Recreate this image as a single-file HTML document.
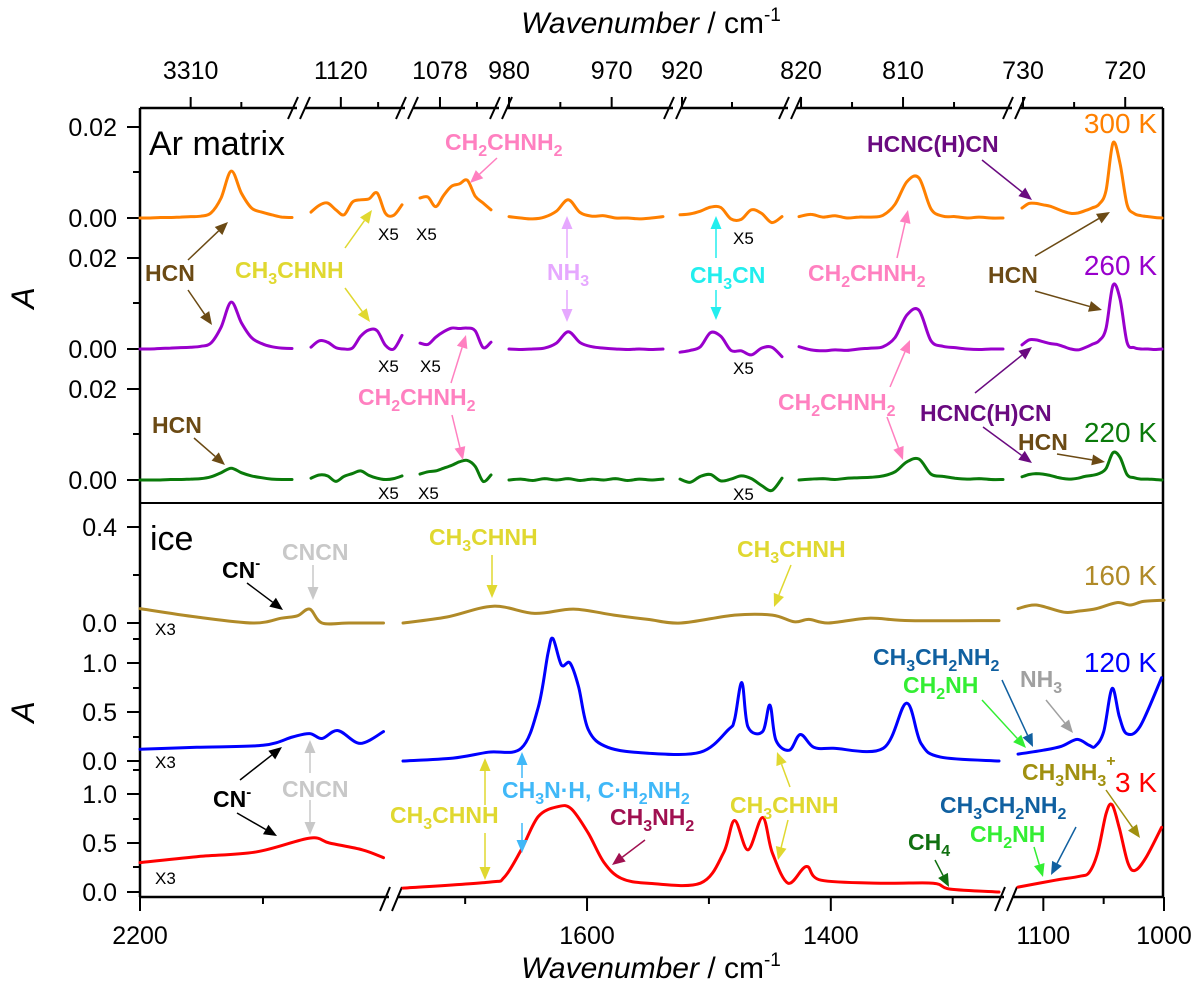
<!DOCTYPE html>
<html><head><meta charset="utf-8"><style>
html,body{margin:0;padding:0;background:#fff}
svg{display:block}
text{font-family:"Liberation Sans",Arial,sans-serif}
.lb{font-weight:bold;font-size:23px}
.tk{font-size:25px}
</style></head><body>
<svg id="chart" width="1200" height="988" viewBox="0 0 1200 988" xmlns="http://www.w3.org/2000/svg">
<g id="frame"></g>
<g id="traces"></g>
<g id="arrows"></g>
<g id="labels">
<text x="651" y="33" font-size="30" text-anchor="middle"><tspan font-style="italic">Wavenumber</tspan> / cm<tspan dy="-12" font-size="19">-1</tspan></text>
<text x="651" y="978" font-size="30" text-anchor="middle"><tspan font-style="italic">Wavenumber</tspan> / cm<tspan dy="-12" font-size="19">-1</tspan></text>
<text x="0" y="0" font-size="32" font-style="italic" text-anchor="middle" transform="translate(34,298) rotate(-90)">A</text>
<text x="0" y="0" font-size="32" font-style="italic" text-anchor="middle" transform="translate(34,712) rotate(-90)">A</text>
<text x="149" y="155" font-size="34">Ar matrix</text>
<text x="150" y="550" font-size="34">ice</text>
<text x="1157" y="133" font-size="28" fill="#ff8000" text-anchor="end">300 K</text>
<text x="1157" y="275" font-size="28" fill="#9900cc" text-anchor="end">260 K</text>
<text x="1157" y="442" font-size="28" fill="#0a7a0a" text-anchor="end">220 K</text>
<text x="1157" y="585" font-size="28" fill="#b08a28" text-anchor="end">160 K</text>
<text x="1157" y="672" font-size="28" fill="#0000ff" text-anchor="end">120 K</text>
<text x="1157" y="792" font-size="28" fill="#ff0000" text-anchor="end">3 K</text>

<text class="lb" x="445" y="150" fill="#ff80c0">CH<tspan dy="6" font-size="16">2</tspan><tspan dy="-6">CHNH</tspan><tspan dy="6" font-size="16">2</tspan></text>
<text class="lb" x="145" y="281" fill="#6b4a14">HCN</text>
<text class="lb" x="235" y="278" fill="#e0d830">CH<tspan dy="6" font-size="16">3</tspan><tspan dy="-6">CHNH</tspan></text>
<text class="lb" x="547" y="280" fill="#e6a8ff">NH<tspan dy="6" font-size="16">3</tspan></text>
<text class="lb" x="690" y="283" fill="#22eeee">CH<tspan dy="6" font-size="16">3</tspan><tspan dy="-6">CN</tspan></text>
<text class="lb" x="808" y="281" fill="#ff80c0">CH<tspan dy="6" font-size="16">2</tspan><tspan dy="-6">CHNH</tspan><tspan dy="6" font-size="16">2</tspan></text>
<text class="lb" x="867" y="152" fill="#6a0a80">HCNC(H)CN</text>
<text class="lb" x="988" y="283" fill="#6b4a14">HCN</text>
<text class="lb" x="358" y="405" fill="#ff80c0">CH<tspan dy="6" font-size="16">2</tspan><tspan dy="-6">CHNH</tspan><tspan dy="6" font-size="16">2</tspan></text>
<text class="lb" x="152" y="433" fill="#6b4a14">HCN</text>
<text class="lb" x="778" y="410" fill="#ff80c0">CH<tspan dy="6" font-size="16">2</tspan><tspan dy="-6">CHNH</tspan><tspan dy="6" font-size="16">2</tspan></text>
<text class="lb" x="920" y="421" fill="#6a0a80">HCNC(H)CN</text>
<text class="lb" x="1018" y="450" fill="#6b4a14">HCN</text>
<g font-size="17">
<text x="378" y="240">X5</text>
<text x="416" y="240">X5</text>
<text x="378" y="372">X5</text>
<text x="420" y="372">X5</text>
<text x="378" y="499">X5</text>
<text x="418" y="499">X5</text>
<text x="733" y="244">X5</text>
<text x="733" y="374">X5</text>
<text x="733" y="500">X5</text>
<text x="155" y="635">X3</text>
<text x="155" y="768">X3</text>
<text x="155" y="884">X3</text>
</g>

<text class="lb" x="222" y="578" fill="#000">CN<tspan dy="-10" font-size="15">-</tspan></text>
<text class="lb" x="282" y="560" fill="#c8c8c8">CNCN</text>
<text class="lb" x="429" y="545" fill="#e0d830">CH<tspan dy="6" font-size="16">3</tspan><tspan dy="-6">CHNH</tspan></text>
<text class="lb" x="737" y="557" fill="#e0d830">CH<tspan dy="6" font-size="16">3</tspan><tspan dy="-6">CHNH</tspan></text>
<text class="lb" x="873" y="665" fill="#1060a0">CH<tspan dy="6" font-size="16">3</tspan><tspan dy="-6">CH</tspan><tspan dy="6" font-size="16">2</tspan><tspan dy="-6">NH</tspan><tspan dy="6" font-size="16">2</tspan></text>
<text class="lb" x="903" y="693" fill="#33ee33">CH<tspan dy="6" font-size="16">2</tspan><tspan dy="-6">NH</tspan></text>
<text class="lb" x="1020" y="687" fill="#a0a0a0">NH<tspan dy="6" font-size="16">3</tspan></text>
<text class="lb" x="213" y="807" fill="#000">CN<tspan dy="-10" font-size="15">-</tspan></text>
<text class="lb" x="282" y="797" fill="#c8c8c8">CNCN</text>
<text class="lb" x="390" y="823" fill="#e0d830">CH<tspan dy="6" font-size="16">3</tspan><tspan dy="-6">CHNH</tspan></text>
<text class="lb" x="502" y="798" fill="#40b8f8">CH<tspan dy="6" font-size="16">3</tspan><tspan dy="-6">N·H, C·H</tspan><tspan dy="6" font-size="16">2</tspan><tspan dy="-6">NH</tspan><tspan dy="6" font-size="16">2</tspan></text>
<text class="lb" x="610" y="825" fill="#a01050">CH<tspan dy="6" font-size="16">3</tspan><tspan dy="-6">NH</tspan><tspan dy="6" font-size="16">2</tspan></text>
<text class="lb" x="730" y="813" fill="#e0d830">CH<tspan dy="6" font-size="16">3</tspan><tspan dy="-6">CHNH</tspan></text>
<text class="lb" x="908" y="850" fill="#107010">CH<tspan dy="6" font-size="16">4</tspan></text>
<text class="lb" x="940" y="813" fill="#1060a0">CH<tspan dy="6" font-size="16">3</tspan><tspan dy="-6">CH</tspan><tspan dy="6" font-size="16">2</tspan><tspan dy="-6">NH</tspan><tspan dy="6" font-size="16">2</tspan></text>
<text class="lb" x="970" y="842" fill="#33ee33">CH<tspan dy="6" font-size="16">2</tspan><tspan dy="-6">NH</tspan></text>
<text class="lb" x="1022" y="780" fill="#a09010">CH<tspan dy="6" font-size="16">3</tspan><tspan dy="-6">NH</tspan><tspan dy="6" font-size="16">3</tspan><tspan dy="-20" font-size="16">+</tspan></text>
</g>
</svg>
<script>
// ---------- Axis segments (wavenumber domain -> pixel range) ----------
const topSegs = [
 {wn:[3320,3290], px:[140,292]},
 {wn:[1124,1111.8], px:[311,402]},
 {wn:[1080.7,1071.1], px:[420,491]},
 {wn:[980,965], px:[509,663]},
 {wn:[920.2,910], px:[680,782]},
 {wn:[820.2,800.2], px:[799,1003]},
 {wn:[730.1,716.4], px:[1022,1162]}
];
const botSegs = [
 {wn:[2200,2002], px:[140,383.5]},
 {wn:[1751,1262], px:[403,999]},
 {wn:[1121,1000], px:[1018,1164]}
];
// top tick labels and positions (values)
const topMajorTicks = [[0,3310],[1,1120],[2,1078],[3,980],[3,970],[4,920],[5,820],[5,810],[6,730],[6,720]];
const topMinorTicks = [[0,3300],[1,1115],[2,1073],[3,975],[4,915],[5,815],[5,805],[6,725]];
const botMajorTicks = [[0,2200],[1,1600],[1,1400],[2,1100],[2,1000]];
const botMinorTicks = [[0,2100],[1,1700],[1,1500],[1,1300],[2,1050]];
const botTickLabels = ["2200","1600","1400","1100","1000"];

// ---------- Ar matrix data (A x 1e-3), uniform samples per segment ----------
const a300 = [
 [0,0,0.1,0.1,0.2,0.3,0.4,1.1,4.4,10.3,5.5,2.2,1.3,0.7,0.2,0.1],
 [1.3,2.8,3.3,1.8,0.7,3.5,4.0,4.2,5.5,1.0,0.6,2.9],
 [4.4,4.6,2.5,5.0,7.0,7.5,8.3,4.8,3.3,1.8],
 [0.3,0,-0.2,0.2,1.5,4.0,1.2,0.4,0.5,0,0,-0.2,0,0.3],
 [0.7,0.9,1.5,2.4,2.3,-0.2,-0.3,1.8,1.0,-1.0,0.3],
 [0.3,0.8,0.2,0.5,0,0.2,0.2,0.6,3.0,8.0,8.8,2.0,0.4,0.3,0,0.2,0,0],
 [2.2,3.2,3.2,2.9,2.6,2.0,1.4,1.0,1.1,1.6,2.2,3.0,6.0,16.5,12.0,3.0,1.0,0.5,0.3,0.1,0]
];
const a260 = [
 [0,0,0.1,0.2,0.3,0.4,0.6,1.3,4.8,10.3,5.8,2.5,1.2,0.5,0.2,0.1],
 [0.4,1.8,1.5,0.3,0,0.2,2.8,4.2,4.0,0.8,0,3.0],
 [1.3,1.0,2.6,3.8,4.6,4.5,4.6,4.0,0.3,1.5],
 [0,-0.1,0,0.2,1.3,3.8,1.4,0.5,0.2,0,-0.1,0,-0.1,0],
 [-0.7,-0.3,0.5,3.6,2.8,-0.3,-0.4,-1.3,0.2,0.4,-1.7],
 [0.5,-0.2,-0.4,-0.2,-0.3,0,0.2,0.5,2.5,7.5,8.5,1.8,0.6,0.3,0,-0.1,0,0],
 [0.9,2.0,2.0,1.6,1.2,1.0,0.5,0,-0.2,0.3,1.0,1.8,4.5,14.0,11.0,1.5,0.3,0,0,-0.1,0]
];
const a220 = [
 [0,0,0,0.1,0.1,0.2,0.3,0.7,1.6,2.6,1.6,0.9,0.5,0.2,0.1,0.1],
 [0.4,1.1,0.9,-0.3,0.8,1.4,2.0,1.0,0.4,0.1,0.3,0.9],
 [1.3,1.8,2.0,2.6,3.2,4.0,4.3,3.0,-0.3,1.1],
 [0,0.2,-0.1,0.3,0,0.3,-0.1,0.2,0,0.3,-0.1,0.2,0,0.2],
 [0.2,-0.5,0.8,1.2,-0.2,0.2,0.9,0.3,-1.2,-2.3,0.4],
 [0,0.2,0.3,0.1,0.4,0.5,0.6,0.9,1.8,4.0,4.6,1.3,0.8,0.4,0.2,0.3,0.1,0.1],
 [0.7,1.2,1.4,1.3,1.0,0.6,0.3,0.2,0.4,0.8,1.0,1.4,2.5,6.0,5.0,1.2,0.5,0.2,0.2,0.1,0]
];

// ---------- Ice data (wavenumber, A) per segment ----------
const w160 = [[2200,2154,2108,2085,2072,2062,2052,2030,2002],
 [1751,1715,1677,1643,1611,1578,1550,1523,1479,1448,1430,1418,1402,1369,1335,1262],
 [1121,1106,1083,1070,1056,1039,1028,1017,1000]];
const v160 = [[0.06,0.025,0.0,0.02,0.03,0.058,0.0,0.0,0.0],
 [0,0.025,0.07,0.04,0.058,0.033,0.015,0,0.033,0.033,0.005,0.015,0,0.02,0.01,0.01],
 [0.06,0.075,0.045,0.05,0.06,0.085,0.075,0.09,0.095]];
const w120 = [[2200,2154,2100,2076,2062,2052,2039,2021,2002],
 [1751,1710,1681,1654,1640,1632,1628,1621,1614,1607,1599,1583,1550,1507,1484,1479,1473,1468,1456,1450,1445,1434,1425,1414,1398,1357,1338,1326,1310,1262],
 [1121,1100,1085,1072,1062,1057,1050,1043,1037,1031,1020,1002]];
const v120 = [[0.12,0.14,0.16,0.245,0.28,0.23,0.31,0.18,0.3],
 [0.0,0.03,0.09,0.13,0.55,1.1,1.25,0.98,1.0,0.76,0.32,0.14,0.08,0.09,0.32,0.42,0.8,0.35,0.3,0.57,0.21,0.11,0.27,0.14,0.13,0.13,0.59,0.18,0.04,0.0],
 [0.07,0.11,0.15,0.22,0.16,0.15,0.3,0.74,0.45,0.28,0.35,0.85]];
const w3 = [[2200,2154,2105,2062,2046,2019,2002],
 [1751,1681,1668,1654,1640,1624,1613,1599,1586,1572,1550,1507,1488,1479,1468,1456,1448,1435,1420,1408,1357,1316,1302,1262],
 [1121,1090,1070,1062,1055,1048,1043,1037,1030,1024,1015,1002]];
const v3 = [[0.3,0.36,0.41,0.55,0.5,0.43,0.35],
 [0.04,0.1,0.15,0.43,0.77,0.87,0.85,0.6,0.3,0.14,0.09,0.09,0.4,0.73,0.43,0.76,0.4,0.09,0.26,0.12,0.09,0.09,0.03,0.0],
 [0.05,0.12,0.16,0.2,0.4,0.8,0.89,0.65,0.3,0.22,0.35,0.66]];

// ---------- helpers ----------
const NS = "http://www.w3.org/2000/svg";
function mk(tag, attrs, parent){const e=document.createElementNS(NS,tag);for(const k in attrs)e.setAttribute(k,attrs[k]);parent.appendChild(e);return e;}
function xScale(seg, wn){return seg.px[0]+(wn-seg.wn[0])/(seg.wn[1]-seg.wn[0])*(seg.px[1]-seg.px[0]);}
function smoothPath(pts){
  let d="M"+pts[0][0].toFixed(1)+","+pts[0][1].toFixed(1);
  for(let i=0;i<pts.length-1;i++){
    const p0=pts[Math.max(0,i-1)],p1=pts[i],p2=pts[i+1],p3=pts[Math.min(pts.length-1,i+2)];
    const c1=[p1[0]+(p2[0]-p0[0])/6,p1[1]+(p2[1]-p0[1])/6];
    const c2=[p2[0]-(p3[0]-p1[0])/6,p2[1]-(p3[1]-p1[1])/6];
    d+="C"+c1[0].toFixed(1)+","+c1[1].toFixed(1)+" "+c2[0].toFixed(1)+","+c2[1].toFixed(1)+" "+p2[0].toFixed(1)+","+p2[1].toFixed(1);
  }
  return d;
}
const traces=document.getElementById('traces');
function topTrace(data, base, color, name){
  data.forEach((vals,si)=>{
    const seg=topSegs[si];
    const pts=vals.map((v,i)=>{const wn=seg.wn[0]+i/(vals.length-1)*(seg.wn[1]-seg.wn[0]);return [xScale(seg,wn), base - v*4.55];});
    const p=mk('path',{d:smoothPath(pts),fill:'none',stroke:color,'stroke-width':3,'stroke-linejoin':'round','stroke-linecap':'round'},traces);
    
    
  });
}
function botTrace(ws, vs, base, k, color, name){
  ws.forEach((w,si)=>{
    const seg=botSegs[si];
    const pts=w.map((wn,i)=>[xScale(seg,wn), base - vs[si][i]*k]);
    const p=mk('path',{d:smoothPath(pts),fill:'none',stroke:color,'stroke-width':3,'stroke-linejoin':'round','stroke-linecap':'round'},traces);
    
    
  });
}
topTrace(a300,218,'#ff8000','trace-300k');
topTrace(a260,349,'#9900cc','trace-260k');
topTrace(a220,480,'#0a7a0a','trace-220k');
botTrace(w160,v160,623,240,'#b08a28','trace-160k');
botTrace(w120,v120,761,98,'#0000ff','trace-120k');
botTrace(w3,v3,892,98,'#ff0000','trace-3k');

// ---------- frame, axes ----------
const fr=document.getElementById('frame');
const TOP=108,BOT=897,L=140,R=1163;
function line(x1,y1,x2,y2,w,name,col){const l=mk('line',{x1:x1,y1:y1,x2:x2,y2:y2,stroke:col||'#000','stroke-width':w||2},fr);return l;}
line(L,TOP,L,BOT,2.5,'left-axis');
line(R,TOP,R,BOT,2.5,'right-axis');
line(L,503,R,503,2,'panel-divider');
// top axis with breaks
const topBreaks=[301,409,503,677,792,1016];
let xs=L;
topBreaks.forEach(c=>{line(xs,TOP,c-4,TOP,2.5,'top-axis-line');xs=c+4;});
line(xs,TOP,R,TOP,2.5,'top-axis-line');
topBreaks.forEach(c=>{
  line(c-13,TOP+11,c-3,TOP-11,2,'top-axis-break');
  line(c-1,TOP+11,c+9,TOP-11,2,'top-axis-break');
});
const botBreaks=[393,1008];
xs=L;
botBreaks.forEach(c=>{line(xs,BOT,c-4,BOT,2.5,'bottom-axis-line');xs=c+4;});
line(xs,BOT,R,BOT,2.5,'bottom-axis-line');
botBreaks.forEach(c=>{
  line(c-13,BOT+14,c-3,BOT-10,2,'bottom-axis-break');
  line(c-1,BOT+14,c+9,BOT-10,2,'bottom-axis-break');
});
topMajorTicks.forEach(([s,v])=>{
  const x=xScale(topSegs[s],v);
  line(x,TOP,x,TOP-11,2,'top-major-tick');
  const t=mk('text',{x:x,y:79,'text-anchor':'middle',class:'tk'},fr);t.textContent=String(v);
  
});
topMinorTicks.forEach(([s,v])=>{const x=xScale(topSegs[s],v);line(x,TOP,x,TOP-6,2,'top-minor-tick');});
botMajorTicks.forEach(([s,v],i)=>{
  const x=xScale(botSegs[s],v);
  line(x,BOT,x,BOT+14,2,'bottom-major-tick');
  const t=mk('text',{x:x,y:944,'text-anchor':'middle',class:'tk'},fr);t.textContent=botTickLabels[i];
  
});
botMinorTicks.forEach(([s,v])=>{const x=xScale(botSegs[s],v);line(x,BOT,x,BOT+7,2,'bottom-minor-tick');});
// y ticks: [y, label or '' for minor]
const yTicks=[[127,'0.02'],[172,''],[218,'0.00'],[258,'0.02'],[303,''],[349,'0.00'],[389,'0.02'],[434,''],[480,'0.00'],
 [527,'0.4'],[575,''],[623,'0.0'],[639,''],[663,'1.0'],[688,''],[712,'0.5'],[737,''],[761,'0.0'],[770,''],[794,'1.0'],[819,''],[843,'0.5'],[867,''],[892,'0.0']];
yTicks.forEach(([y,lab])=>{
  line(L,y,L-(lab?13:7),y,2,lab?'y-major-tick':'y-minor-tick');
  if(lab){const t=mk('text',{x:117,y:y+9,'text-anchor':'end',class:'tk'},fr);t.textContent=lab;
   }
});

// ---------- arrows ----------
const ag=document.getElementById('arrows');
function arrow(x1,y1,x2,y2,col){
  const dx=x2-x1,dy=y2-y1,len=Math.hypot(dx,dy),ux=dx/len,uy=dy/len,h=13,w=5.5;
  const bx=x2-ux*h,by=y2-uy*h;
  const l=mk('line',{x1:x1,y1:y1,x2:bx,y2:by,stroke:col,'stroke-width':1.5},ag);
  
  
  const p=mk('polygon',{points:`${x2},${y2} ${bx-uy*w},${by+ux*w} ${bx+uy*w},${by-ux*w}`,fill:col},ag);
  
  
}
const BR='#6b4a14',PK='#ff80c0',YL='#e0d830',PU='#6a0a80';
arrow(497,158,470,183,PK);
arrow(188,260,228,222,BR);arrow(188,290,212,325,BR);
arrow(345,248,372,210,YL);arrow(345,288,370,322,YL);
arrow(567,258,567,216,'#e6a8ff');arrow(567,290,567,322,'#e6a8ff');
arrow(716,258,716,216,'#22eeee');arrow(716,290,716,320,'#22eeee');
arrow(897,258,908,210,PK);
arrow(982,160,1032,200,PU);
arrow(1035,256,1110,212,BR);arrow(1035,291,1102,310,BR);
arrow(451,383,466,335,PK);arrow(452,415,463,460,PK);
arrow(194,438,225,465,BR);
arrow(890,387,910,340,PK);arrow(887,417,903,460,PK);
arrow(975,393,1032,347,PU);arrow(983,427,1032,463,PU);
arrow(1057,454,1105,462,BR);
arrow(247,583,283,610,'#000');
arrow(313,565,313,600,'#c8c8c8');
arrow(492,555,492,598,YL);
arrow(791,565,774,607,YL);
arrow(1002,680,1033,747,'#1060a0');
arrow(982,700,1026,748,'#33ee33');
arrow(1046,700,1073,733,'#a0a0a0');
arrow(240,780,282,747,'#000');arrow(237,813,277,836,'#000');
arrow(310,773,310,740,'#c8c8c8');arrow(310,800,310,835,'#c8c8c8');
arrow(485,805,485,758,YL);arrow(485,833,485,880,YL);
arrow(522,778,522,752,'#40b8f8');arrow(522,823,522,853,'#40b8f8');
arrow(645,840,612,865,'#a01050');
arrow(790,787,777,752,YL);arrow(788,820,778,860,YL);
arrow(935,860,949,887,'#107010');
arrow(1076,827,1051,875,'#1060a0');
arrow(1034,847,1043,877,'#33ee33');
arrow(1106,790,1140,838,'#a09010');
</script>
</body></html>
